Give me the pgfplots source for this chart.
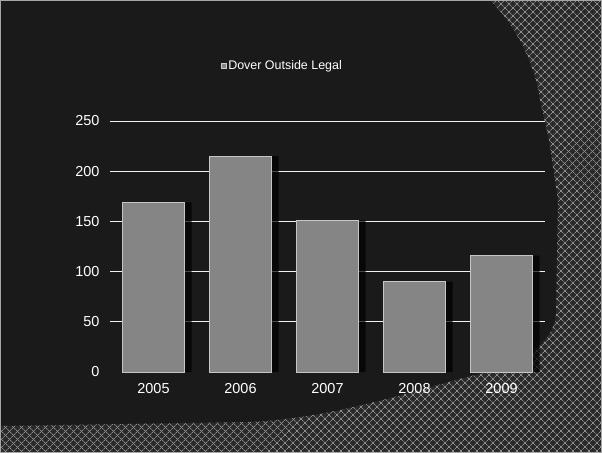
\documentclass[border=0pt]{standalone}
\usepackage{fontspec}
\setmainfont{Liberation Sans}
\usepackage{pgfplots}
\pgfplotsset{compat=1.18}
\usetikzlibrary{patterns.meta}

\definecolor{bgdark}{HTML}{1A1A1A}
\definecolor{hatchbg}{HTML}{2A2A2A}
\definecolor{hatchline}{HTML}{8C8C8C}
\definecolor{barfill}{HTML}{858585}

\begin{document}
\begin{tikzpicture}
\useasboundingbox (0,0) rectangle (602bp,-453bp);
% slide background
\begin{scope}[x=1bp,y=-1bp]
  \fill[bgdark] (0,0) rectangle (602,453);
  \path[fill=hatchbg,
        postaction={pattern={Lines[angle=45,distance=6bp,line width=0.9bp]},pattern color=hatchline},
        postaction={pattern={Lines[angle=-45,distance=6bp,line width=0.9bp]},pattern color=hatchline}]
    (490,0) .. controls (520,30) and (536,70) .. (540,100)
    -- (549,140) -- (558,200) -- (556,315)
    .. controls (552,350) and (510,368) .. (467,377)
    .. controls (400,395) and (330,418) .. (250,422)
    -- (0,426) -- (0,453) -- (602,453) -- (602,0) -- cycle;
  \draw[gray!70, line width=0.8bp] (0.5,0.5) rectangle (601.5,452.5);
\end{scope}

\begin{axis}[
    at={(110bp,-372bp)}, anchor=south west,
    scale only axis,
    width=435bp, height=251bp,
    xmin=-0.5, xmax=4.5,
    ymin=0, ymax=250,
    axis line style={draw=none},
    major tick length=0pt,
    ytick={50,100,150,200,250},
    extra y ticks={0},
    extra y tick style={grid=none},
    ymajorgrids=true,
    grid style={white!90!gray, line width=1bp},
    xtick=data,
    xticklabels={2005,2006,2007,2008,2009},
    ticklabel style={text=white, font=\fontsize{14.5}{16}\selectfont},
    yticklabel style={xshift=-7bp},
    xticklabel style={yshift=-8bp},
    /pgf/number format/assume math mode=true,
    ybar,
    bar width=62bp,
    legend style={at={(0.396,1.219)}, anchor=center, draw=none, fill=none,
                  text=white, font=\fontsize{12.5}{14}\selectfont},
    legend image code/.code={\draw[#1, draw=gray!40] (0bp,-2.5bp) rectangle (5bp,2.5bp);},
]
% drop shadow of the bars
\addplot[fill=black, draw=none, bar shift=7bp, opacity=0.7, forget plot]
    coordinates {(0,169) (1,215) (2,151) (3,90) (4,116)};
\addplot[fill=barfill, draw=gray!45!white, line width=0.6bp, bar shift=0bp]
    coordinates {(0,169) (1,215) (2,151) (3,90) (4,116)};
\legend{Dover Outside Legal}
\end{axis}
\end{tikzpicture}
\end{document}
